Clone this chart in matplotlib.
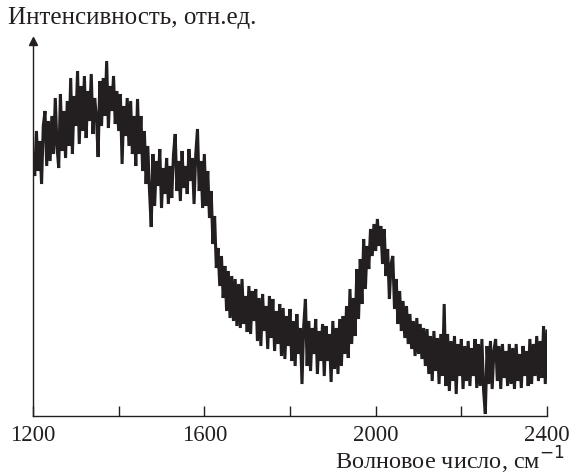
import numpy as np
import matplotlib
matplotlib.use("Agg")
import matplotlib.pyplot as plt

# Wavenumber grid (cm^-1), step 4
wn_start = 1200
wn_step = 4

# Intensity values (arbitrary units)
intensity = [
    262, 240, 285, 245, 275, 232, 290, 305, 250, 295,
    255, 300, 262, 318, 270, 248, 322, 265, 305, 258,
    315, 270, 338, 262, 320, 290, 345, 272, 330, 285,
    340, 278, 325, 295, 342, 282, 318, 300, 259, 335,
    290, 338, 300, 355, 288, 330, 305, 340, 292, 325,
    285, 322, 252, 310, 280, 318, 270, 315, 262, 300,
    250, 317, 262, 300, 245, 285, 232, 270, 225, 189,
    262, 210, 255, 230, 267, 208, 248, 222, 258, 212,
    250, 218, 262, 282, 225, 255, 215, 265, 228, 250,
    222, 267, 235, 258, 212, 262, 287, 225, 255, 208,
    262, 210, 245, 198, 225, 172, 200, 148, 168, 130,
    160, 118, 150, 105, 145, 98, 140, 95, 137, 90,
    132, 88, 137, 92, 120, 84, 130, 82, 125, 95,
    127, 75, 118, 70, 122, 85, 110, 67, 120, 78,
    117, 65, 105, 72, 112, 60, 108, 57, 100, 70,
    107, 55, 95, 50, 102, 62, 88, 32, 90, 117,
    50, 95, 45, 88, 62, 97, 42, 85, 55, 92,
    40, 90, 55, 82, 34, 95, 47, 88, 42, 97,
    50, 100, 62, 110, 58, 127, 72, 118, 80, 147,
    97, 157, 112, 177, 127, 170, 147, 187, 160, 192,
    165, 197, 170, 190, 152, 187, 140, 167, 117, 152,
    160, 107, 137, 92, 125, 85, 115, 78, 110, 72,
    102, 67, 95, 60, 98, 62, 92, 57, 88, 50,
    87, 42, 80, 35, 85, 45, 78, 32, 82, 40,
    112, 30, 82, 25, 75, 35, 80, 22, 72, 40,
    77, 27, 70, 35, 75, 30, 68, 40, 77, 28,
    72, 30, 77, 25, 2, 70, 32, 75, 27, 65,
    77, 35, 70, 27, 72, 38, 65, 30, 72, 32,
    68, 27, 72, 35, 62, 28, 70, 40, 65, 30,
    77, 32, 72, 40, 80, 35, 75, 38, 90, 32, 85,
]
wavenumber = [wn_start + wn_step * i for i in range(len(intensity))]

x_ticks = [1200, 1400, 1600, 1800, 2000, 2200, 2400]
x_ticklabels = ["1200", "", "1600", "", "2000", "", "2400"]

plt.rcParams['font.family'] = ['Liberation Serif', 'DejaVu Serif']

fig = plt.figure(figsize=(5.75, 4.77), dpi=100)
ax = fig.add_axes([33/575, 1-417/477, (547-33)/575, (417-42)/477])

ax.plot(wavenumber, intensity, color='#231f20', lw=2.2, solid_joinstyle='miter')

ax.set_xlim(1200, 2400)
ax.set_ylim(0, 375)
ax.set_xticks(x_ticks)
ax.set_xticklabels(x_ticklabels)
ax.set_yticks([])
ax.tick_params(axis='x', direction='in', length=7, width=1, pad=6,
               labelsize=16.5, colors='#231f20')
for s in ['top', 'right']:
    ax.spines[s].set_visible(False)
for s in ['left', 'bottom']:
    ax.spines[s].set_color('#231f20')
    ax.spines[s].set_linewidth(1)

# arrow head at top of y axis
ax.plot([0], [1.0], marker='^', color='#231f20', markersize=6,
        transform=ax.transAxes, clip_on=False)

fig.text(8/575, 1-18/477, "Интенсивность, отн.ед.", fontsize=18,
         ha='left', va='center', color='#231f20')
fig.text(565/575, 1-476/477, "Волновое число, см$^{-1}$", fontsize=17.5,
         ha='right', va='bottom', color='#231f20')

fig.savefig("out.png", dpi=100)
